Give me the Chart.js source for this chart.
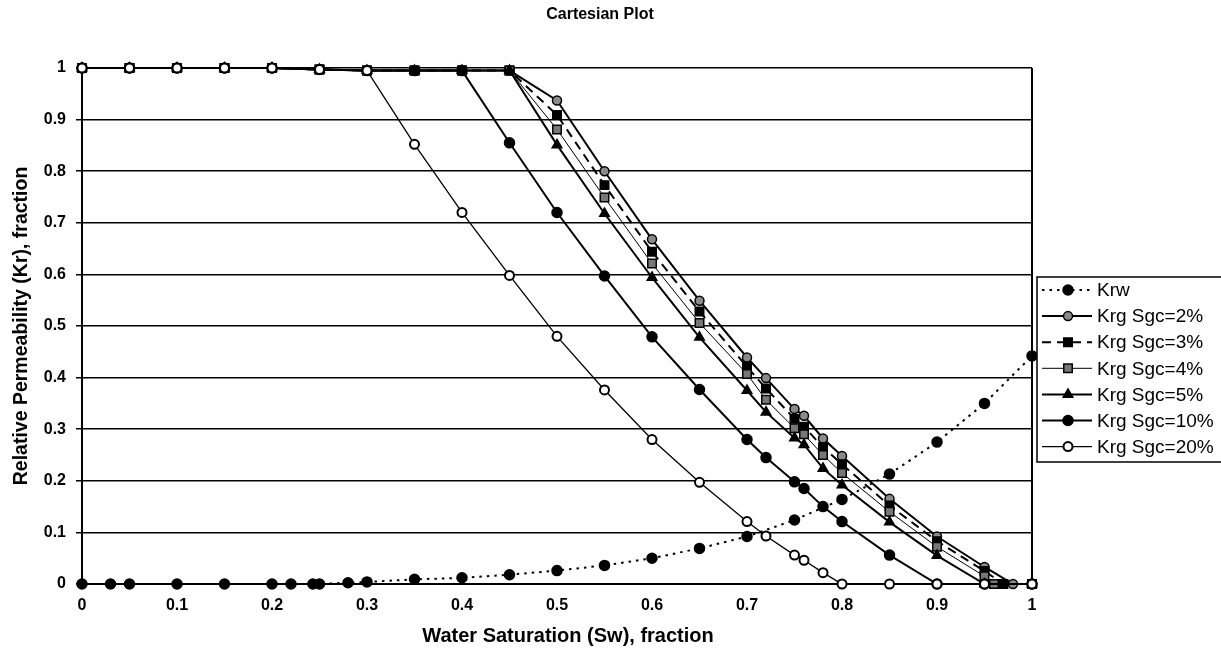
<!DOCTYPE html>
<html>
<head>
<meta charset="utf-8">
<title>Cartesian Plot</title>
<script src="https://cdn.jsdelivr.net/npm/chart.js@4.4.0/dist/chart.umd.min.js"></script>
<style>
    html, body { margin: 0; padding: 0; background: #fff; }
    #wrap { width: 1221px; height: 649px; }
</style>
</head>
<body>
<div id="wrap"><canvas id="kr_chart" width="1221" height="649"></canvas></div>
<script>
// water relative permeability
var swKrw = [0, 0.03, 0.05, 0.1, 0.15, 0.2, 0.22, 0.243, 0.25, 0.28, 0.3, 0.35, 0.4, 0.45, 0.5, 0.55, 0.6, 0.65, 0.7, 0.75, 0.8, 0.85, 0.9, 0.95, 1];
var krw = [0, 0, 0, 0, 0, 0, 0, 0, 0, 0.0025, 0.004, 0.009, 0.012, 0.018, 0.026, 0.036, 0.05, 0.069, 0.092, 0.124, 0.164, 0.213, 0.275, 0.35, 0.442];

// gas relative permeability for each critical gas saturation
var swKrg = [0, 0.05, 0.1, 0.15, 0.2, 0.25, 0.3, 0.35, 0.4, 0.45, 0.5, 0.55, 0.6, 0.65, 0.7, 0.72, 0.75, 0.76, 0.78, 0.8, 0.85, 0.9, 0.95, 0.96, 0.97, 0.98, 1];
var krgSgc2 = [1, 1, 1, 1, 1, 0.997, 0.995, 0.995, 0.995, 0.995, 0.937, 0.8, 0.668, 0.549, 0.439, 0.399, 0.339, 0.326, 0.282, 0.248, 0.165, 0.092, 0.033, null, null, 0, 0];
var krgSgc3 = [1, 1, 1, 1, 1, 0.997, 0.995, 0.995, 0.995, 0.995, 0.909, 0.773, 0.644, 0.528, 0.421, 0.379, 0.32, 0.305, 0.265, 0.232, 0.152, 0.083, 0.025, null, 0, null, 0];
var krgSgc4 = [1, 1, 1, 1, 1, 0.997, 0.995, 0.995, 0.995, 0.995, 0.881, 0.749, 0.621, 0.506, 0.407, 0.357, 0.302, 0.29, 0.25, 0.215, 0.14, 0.072, 0.015, 0, null, null, 0];
var krgSgc5 = [1, 1, 1, 1, 1, 0.997, 0.995, 0.995, 0.995, 0.995, 0.851, 0.718, 0.594, 0.478, 0.375, 0.333, 0.283, 0.27, 0.224, 0.192, 0.12, 0.055, 0, null, null, null, 0];
var krgSgc10 = [1, 1, 1, 1, 1, 0.997, 0.995, 0.995, 0.995, 0.855, 0.72, 0.597, 0.479, 0.377, 0.28, 0.245, 0.198, 0.185, 0.15, 0.121, 0.056, 0, 0, null, null, null, 0];
var krgSgc20 = [1, 1, 1, 1, 1, 0.997, 0.995, 0.852, 0.72, 0.598, 0.48, 0.376, 0.28, 0.197, 0.121, 0.093, 0.056, 0.046, 0.022, 0, 0, 0, 0, null, null, null, 0];

var xTickLabels = ["0", "0.1", "0.2", "0.3", "0.4", "0.5", "0.6", "0.7", "0.8", "0.9", "1"];
var yTickLabels = ["0", "0.1", "0.2", "0.3", "0.4", "0.5", "0.6", "0.7", "0.8", "0.9", "1"];

var FONT = '"Liberation Sans", Arial, sans-serif';

function toPoints(xs, ys) {
    return xs.map(function (x, i) { return { x: x, y: ys[i] }; });
}

function series(label, xs, ys, style) {
    var ds = {
        label: label,
        data: toPoints(xs, ys),
        showLine: true,
        spanGaps: true,
        tension: 0,
        clip: false,
        borderColor: '#000',
        borderWidth: 2,
        borderDash: [],
        pointBorderColor: '#000',
        pointBackgroundColor: '#000',
        pointBorderWidth: 1.5,
        pointRadius: 4.5,
        pointHoverRadius: 4.5,
        pointStyle: 'circle'
    };
    for (var k in style) ds[k] = style[k];
    return ds;
}

// chart title and x axis title
var captions = {
    id: 'captions',
    afterDraw: function (chart) {
        var ctx = chart.ctx;
        ctx.save();
        ctx.fillStyle = '#000';
        ctx.textAlign = 'center';
        ctx.textBaseline = 'middle';
        ctx.font = 'bold 16px ' + FONT;
        ctx.fillText('Cartesian Plot', 600, 15);
        ctx.font = 'bold 20px ' + FONT;
        ctx.fillText('Water Saturation (Sw), fraction', 568, 636);
        ctx.restore();
    }
};

// legend box drawn at the right edge of the plot
var legendBox = {
    id: 'legendBox',
    afterDraw: function (chart) {
        var ctx = chart.ctx;
        var left = 1037, top = 277, rowH = 26.1;
        ctx.save();
        ctx.fillStyle = '#fff';
        ctx.strokeStyle = '#000';
        ctx.lineWidth = 1.5;
        ctx.setLineDash([]);
        ctx.fillRect(left, top, 200, 185);
        ctx.strokeRect(left, top, 200, 185);
        chart.data.datasets.forEach(function (ds, i) {
            var y = top + 13 + i * rowH;
            ctx.setLineDash(ds.borderDash || []);
            ctx.lineWidth = ds.borderWidth;
            ctx.strokeStyle = ds.borderColor;
            ctx.beginPath();
            ctx.moveTo(left + 5, y);
            ctx.lineTo(left + 55, y);
            ctx.stroke();
            ctx.setLineDash([]);
            ctx.fillStyle = ds.pointBackgroundColor;
            ctx.strokeStyle = ds.pointBorderColor;
            ctx.lineWidth = ds.pointBorderWidth;
            Chart.helpers.drawPoint(ctx, {
                pointStyle: ds.pointStyle,
                radius: ds.pointRadius,
                rotation: 0,
                borderWidth: ds.pointBorderWidth
            }, left + 31, y);
            ctx.fillStyle = '#000';
            ctx.font = '19px ' + FONT;
            ctx.textAlign = 'left';
            ctx.textBaseline = 'middle';
            ctx.fillText(ds.label, left + 60, y + 1);
        });
        ctx.restore();
    }
};

// right edge of the plot frame
var plotFrame = {
    id: 'plotFrame',
    beforeDatasetsDraw: function (chart) {
        var a = chart.chartArea, ctx = chart.ctx;
        ctx.save();
        ctx.strokeStyle = '#000';
        ctx.lineWidth = 2;
        ctx.beginPath();
        ctx.moveTo(a.right, a.top);
        ctx.lineTo(a.right, a.bottom);
        ctx.stroke();
        ctx.restore();
    }
};

new Chart(document.getElementById('kr_chart').getContext('2d'), {
    type: 'scatter',
    data: {
        datasets: [
            series('Krw', swKrw, krw, { borderDash: [2.5, 5], pointRadius: 5, order: 6 }),
            series('Krg Sgc=2%', swKrg, krgSgc2, { pointRadius: 4.5, pointBackgroundColor: '#8a8a8a', order: 5 }),
            series('Krg Sgc=3%', swKrg, krgSgc3, { borderDash: [9, 6], pointStyle: 'rect', pointRadius: 6, order: 4 }),
            series('Krg Sgc=4%', swKrg, krgSgc4, { borderWidth: 1, pointStyle: 'rect', pointRadius: 6, pointBackgroundColor: '#777', order: 3 }),
            series('Krg Sgc=5%', swKrg, krgSgc5, { pointStyle: 'triangle', pointRadius: 5.5, order: 2 }),
            series('Krg Sgc=10%', swKrg, krgSgc10, { pointRadius: 5, order: 1 }),
            series('Krg Sgc=20%', swKrg, krgSgc20, { borderWidth: 1.3, pointRadius: 4.5, pointBackgroundColor: '#fff', pointBorderWidth: 2, order: 0 })
        ]
    },
    options: {
        responsive: false,
        animation: false,
        events: [],
        layout: { padding: { left: 0, right: 189, top: 68, bottom: 0 } },
        plugins: {
            legend: { display: false },
            tooltip: { enabled: false },
            title: { display: false }
        },
        scales: {
            x: {
                type: 'linear',
                min: 0,
                max: 1,
                afterFit: function (scale) { scale.height = 65; },
                ticks: {
                    stepSize: 0.1,
                    color: '#000',
                    padding: 12,
                    maxRotation: 0,
                    font: { family: FONT, size: 16, weight: 'bold' },
                    callback: function (value, index) { return xTickLabels[index]; }
                },
                grid: { drawOnChartArea: false, drawTicks: false },
                border: { display: true, color: '#000', width: 2 }
            },
            y: {
                type: 'linear',
                min: 0,
                max: 1,
                afterFit: function (scale) { scale.width = 82; },
                ticks: {
                    stepSize: 0.1,
                    color: '#000',
                    padding: 10,
                    font: { family: FONT, size: 16, weight: 'bold' },
                    callback: function (value, index) { return yTickLabels[index]; }
                },
                grid: { color: '#000', lineWidth: 1.5, drawTicks: true, tickLength: 6 },
                border: { display: true, color: '#000', width: 2 },
                title: {
                    display: true,
                    text: 'Relative Permeability (Kr), fraction',
                    color: '#000',
                    font: { family: FONT, size: 19.5, weight: 'bold' },
                    padding: { top: 10, bottom: 4 }
                }
            }
        }
    },
    plugins: [legendBox, plotFrame, captions]
});
</script>
</body>
</html>
